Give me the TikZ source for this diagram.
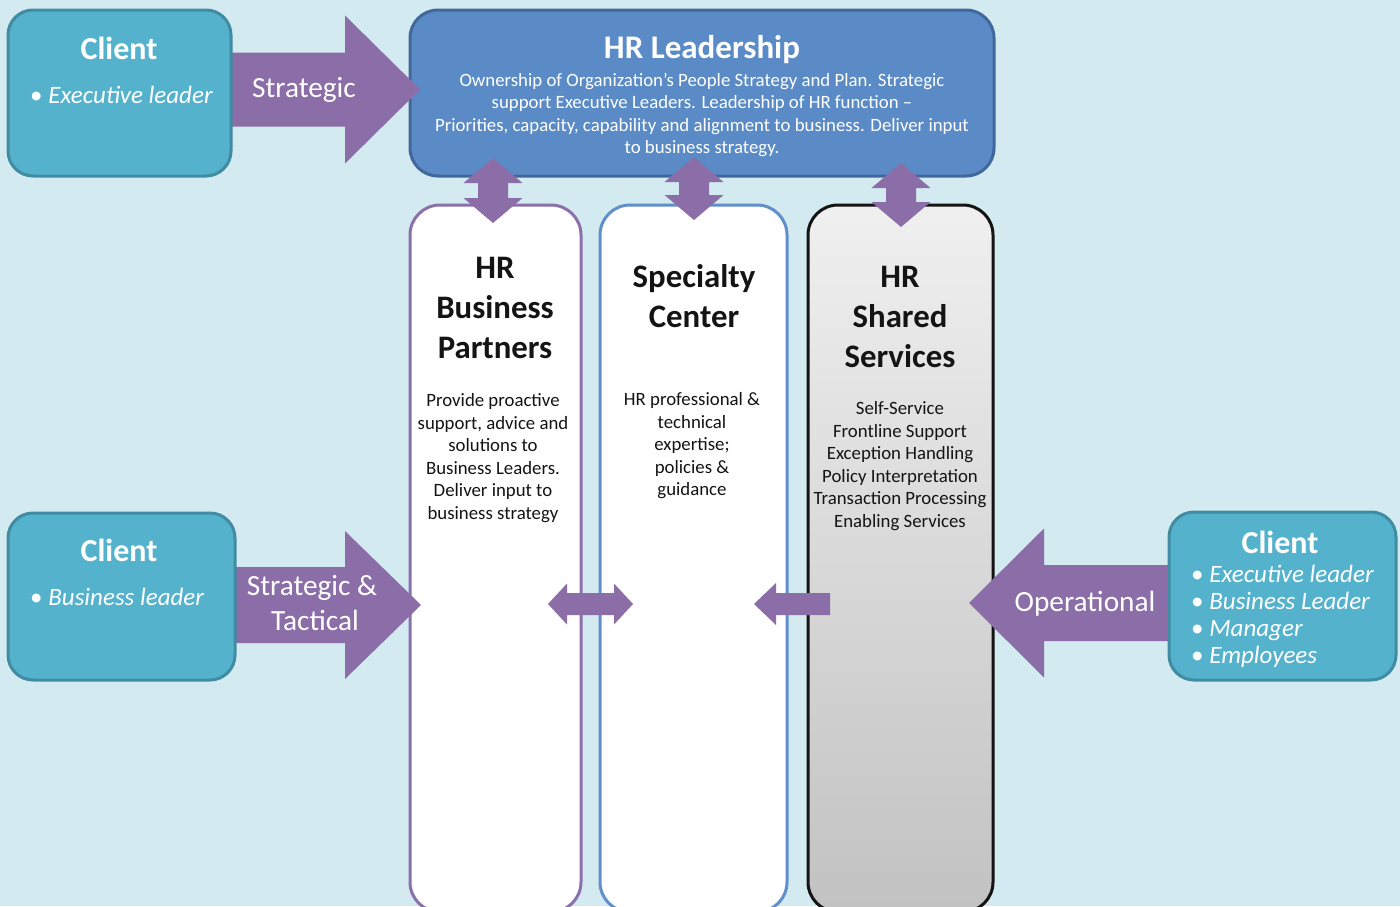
\documentclass[tikz,border=0pt]{standalone}
\usepackage{fontspec}
\setmainfont{Carlito}
\usetikzlibrary{shadows}
\definecolor{bgblue}{RGB}{210,234,240}
\definecolor{clientfill}{RGB}{84,178,204}
\definecolor{clientedge}{RGB}{64,140,163}
\definecolor{leadfill}{RGB}{90,139,198}
\definecolor{leadedge}{RGB}{66,103,154}
\definecolor{themepurple}{RGB}{139,110,168}
\definecolor{partneredge}{RGB}{140,112,172}
\definecolor{centeredge}{RGB}{96,143,203}
\definecolor{darktext}{RGB}{20,20,20}
\tikzset{
  % one-headed block arrow: length, half shaft, half head, head length
  pics/blockarrow/.style n args={4}{
    code = {
    \fill[pic actions] (0,-#2) -- (#1-#4,-#2) -- (#1-#4,-#3) -- (#1,0)
      -- (#1-#4,#3) -- (#1-#4,#2) -- (0,#2) -- cycle;
    }
  },
  % two-headed block arrow, same arguments
  pics/twinarrow/.style n args={4}{
    code = {
    \fill[pic actions] (0,0) -- (#4,-#3) -- (#4,-#2) -- (#1-#4,-#2) -- (#1-#4,-#3)
      -- (#1,0) -- (#1-#4,#3) -- (#1-#4,#2) -- (#4,#2) -- (#4,#3) -- cycle;
    }
  },
  purplearrow/.style = {fill=themepurple,
    drop shadow={shadow xshift=2pt, shadow yshift=-2pt, opacity=.2}},
  clientbox/.style = {draw=clientedge, fill=clientfill, line width=3pt,
    rounded corners=25pt},
  column/.style = {fill=white, line width=3pt, rounded corners=30pt,
    minimum height=707pt},
  whitetitle/.style = {text=white, inner sep=0pt, font=\bfseries\fontsize{32}{38}\selectfont},
  bullets/.style = {text=white, inner sep=0pt, align=left,
    font=\fontsize{25}{27}\selectfont},
  arrowtext/.style = {text=white, inner sep=0pt, align=center,
    font=\fontsize{29.3}{35}\selectfont},
  coltitle/.style = {text=darktext, inner sep=0pt, align=center,
    font=\bfseries\fontsize{32.8}{40}\selectfont},
  coltext/.style = {text=darktext, inner sep=0pt, align=center,
    font=\fontsize{18.8}{22.5}\selectfont}
}

\begin{document}
\begin{tikzpicture}[x=1pt, y=-1pt]
  \fill[bgblue] (0,0) rectangle (1400,906);
  \useasboundingbox (0,0) rectangle (1400,906);

  % the three service columns
  \node[column, draw=partneredge, minimum width=171pt] (hrbp) at (495.5,558.5) {};
  \node[column, draw=centeredge, minimum width=187pt] (spec) at (693.5,558.5) {};
  \node[column, draw=darktext, top color=black!6, bottom color=black!24,
    minimum width=185pt] (ssc) at (900.5,558.5) {};

  \node[coltitle] (hrbptitle) at (495,308) {HR\\Business\\Partners};
  \node[coltext] (hrbptext) at (493,458) {Provide proactive\\support, advice and\\solutions to\\Business Leaders.\\Deliver input to\\business strategy};
  \node[coltitle] (spectitle) at (694,296) {Specialty\\Center};
  \node[coltext] (spectext) at (692,446) {HR professional \&\\technical\\expertise;\\policies \&\\guidance};
  \node[coltitle] (ssctitle) at (900,317) {HR\\Shared\\Services};
  \node[coltext] (ssctext) at (900,466) {Self-Service\\Frontline Support\\Exception Handling\\Policy Interpretation\\Transaction Processing\\Enabling Services};

  % leadership box on top
  \node[draw=leadedge, fill=leadfill, line width=3pt, rounded corners=28pt,
    minimum width=584pt, minimum height=166pt] (lead) at (702,93) {};
  \node[whitetitle, font=\bfseries\fontsize{33}{38}\selectfont] (leadtitle) at (702,50) {HR Leadership};
  \node[text=white, inner sep=0pt, align=center, font=\fontsize{18.8}{22.3}\selectfont]
    (leadtext) at (702,115) {Ownership of Organization’s People Strategy and Plan. Strategic\\support Executive Leaders. Leadership of HR function –\\Priorities, capacity, capability and alignment to business. Deliver input\\to business strategy.};

  % arrows between leadership and the columns
  \pic[purplearrow, rotate=-90] at (493,158) {twinarrow={65}{15}{29.5}{25}};
  \pic[purplearrow, rotate=-90] at (694,157) {twinarrow={63}{15}{29.5}{25}};
  \pic[purplearrow, rotate=-90] at (901,163) {twinarrow={64}{15}{29.5}{25}};
  % arrows across the columns
  \pic[purplearrow] at (548,604) {twinarrow={85}{11}{20.5}{19}};
  \pic[purplearrow, rotate=180] at (830,604) {blockarrow={76}{11}{21}{22}};

  % clients and their arrows
  \pic[purplearrow] at (231,89.5) {blockarrow={189}{37}{74}{75}};
  \pic[purplearrow] at (235,605) {blockarrow={186}{38}{74}{76}};
  \pic[purplearrow, rotate=180] at (1170,603) {blockarrow={201}{38}{74.5}{75}};
  \node[arrowtext] (strat) at (304,90) {Strategic};
  \node[arrowtext] (strattac) at (312,603) {Strategic \&\\\hspace*{6pt}Tactical};
  \node[arrowtext] (oper) at (1085,604) {Operational};

  \node[clientbox, minimum width=223pt, minimum height=166pt] (client1) at (119.5,93) {};
  \node[whitetitle] (client1title) at (119,48) {Client};
  \node[bullets, anchor=west] (client1list) at (30,95) {\textbullet\ \textit{Executive leader}};

  \node[clientbox, minimum width=227pt, minimum height=167pt] (client2) at (121.5,596.5) {};
  \node[whitetitle] (client2title) at (119,550) {Client};
  \node[bullets, anchor=west] (client2list) at (30,597) {\textbullet\ \textit{Business leader}};

  \node[clientbox, minimum width=227pt, minimum height=168pt] (client3) at (1282.5,596) {};
  \node[whitetitle] (client3title) at (1280,542) {Client};
  \node[bullets, anchor=west] (client3list) at (1191,616) {\textbullet\ \textit{Executive leader}\\\textbullet\ \textit{Business Leader}\\\textbullet\ \textit{Manager}\\\textbullet\ \textit{Employees}};
\end{tikzpicture}
\end{document}
